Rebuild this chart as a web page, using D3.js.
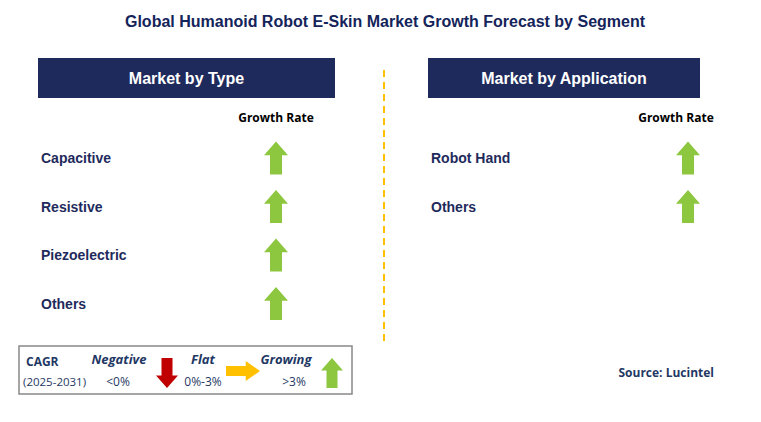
<!DOCTYPE html>
<html><head><meta charset="utf-8">
<script src="https://cdn.jsdelivr.net/npm/d3@7"></script>
<style>body{margin:0;background:#fff}</style>
</head><body>
<svg width="761" height="422"></svg>
<script>
const typeSegments = ["Capacitive", "Resistive", "Piezoelectric", "Others"];
const typeTrends = ["up", "up", "up", "up"];
const appSegments = ["Robot Hand", "Others"];
const appTrends = ["up", "up"];

const svg = d3.select("svg");
const navy = "#1f2a5c", green = "#8dc63f", red = "#c00000", amber = "#ffc000";

svg.append("text").attr("x", 385).attr("y", 27).attr("text-anchor", "middle")
   .attr("font-family", "Liberation Sans, Arial").attr("font-weight", "bold")
   .attr("font-size", 16).attr("fill", "#14245a")
   .text("Global Humanoid Robot E-Skin Market Growth Forecast by Segment");

svg.append("line").attr("x1", 384).attr("x2", 384).attr("y1", 70).attr("y2", 342)
   .attr("stroke", amber).attr("stroke-width", 2).attr("stroke-dasharray", "7,5");

// arrow path centred on 0,0
function arrow(g, dir, color, w, h) {
  const hw = w / 2, sw = w / 4, hh = h * 0.42;
  let pts = [[0, -h/2], [hw, -h/2 + hh], [sw, -h/2 + hh], [sw, h/2], [-sw, h/2], [-sw, -h/2 + hh], [-hw, -h/2 + hh]];
  const rot = {up: 0, down: 180, right: 90}[dir];
  g.append("path").attr("d", d3.line()(pts) + "Z").attr("fill", color)
   .attr("transform", `rotate(${rot})`);
}

function panel(x0, x1, tx, ax, title, segs, trends) {
  svg.append("rect").attr("x", x0).attr("y", 58).attr("width", x1 - x0).attr("height", 40).attr("fill", navy);
  svg.append("text").attr("x", (x0 + x1) / 2).attr("y", 84).attr("text-anchor", "middle")
     .attr("font-family", "Liberation Sans, Arial").attr("font-weight", "bold").attr("font-size", 16)
     .attr("fill", "#fff").text(title);
  svg.append("text").attr("x", tx).attr("y", 122).attr("text-anchor", "middle")
     .attr("font-family", "Open Sans, sans-serif").attr("font-weight", "bold").attr("font-size", 12)
     .attr("fill", "#000").text("Growth Rate");
  const y = d3.scalePoint().domain(d3.range(segs.length)).range([158, 158 + (segs.length - 1) * 48.5]);
  segs.forEach((s, i) => {
    svg.append("text").attr("x", x0 + 3).attr("y", y(i) + 5)
       .attr("font-family", "Liberation Sans, Arial").attr("font-weight", "bold").attr("font-size", 14)
       .attr("fill", navy).text(s);
    const g = svg.append("g").attr("transform", `translate(${ax},${y(i)})`);
    const col = trends[i] === "up" ? green : trends[i] === "down" ? red : amber;
    arrow(g, trends[i], col, 24, 33);
  });
}
panel(38, 335, 276, 276, "Market by Type", typeSegments, typeTrends);
panel(428, 700, 676, 688, "Market by Application", appSegments, appTrends);

// legend
const lg = svg.append("g");
lg.append("rect").attr("x", 19).attr("y", 346).attr("width", 333).attr("height", 48)
  .attr("fill", "#fff").attr("stroke", "#888").attr("stroke-width", 1.5);
const t = (x, y, s, opt = {}) => lg.append("text").attr("x", x).attr("y", y)
  .attr("font-family", "Open Sans, sans-serif").attr("font-size", opt.size || 12)
  .attr("font-weight", opt.bold ? "bold" : "normal").attr("font-style", opt.italic ? "italic" : "normal")
  .attr("fill", "#1f3864").attr("text-anchor", opt.anchor || "start").text(s);
t(26, 366, "CAGR", {bold: true, size: 12});
t(23, 386, "(2025-2031)", {size: 11.5});
t(119, 364, "Negative", {bold: true, italic: true, size: 13, anchor: "middle"});
t(118, 386, "<0%", {anchor: "middle"});
t(203, 364, "Flat", {bold: true, italic: true, size: 13, anchor: "middle"});
t(203, 386, "0%-3%", {anchor: "middle"});
t(286, 364, "Growing", {bold: true, italic: true, size: 13, anchor: "middle"});
t(294, 386, ">3%", {anchor: "middle"});
arrow(lg.append("g").attr("transform", "translate(167,373)"), "down", red, 22, 30);
arrow(lg.append("g").attr("transform", "translate(243,371)"), "right", amber, 20, 34);
arrow(lg.append("g").attr("transform", "translate(332,373)"), "up", green, 22, 30);

svg.append("text").attr("x", 714).attr("y", 377).attr("text-anchor", "end")
   .attr("font-family", "Open Sans, sans-serif").attr("font-weight", "bold").attr("font-size", 12)
   .attr("fill", "#1f3864").text("Source: Lucintel");
</script>
</body></html>
